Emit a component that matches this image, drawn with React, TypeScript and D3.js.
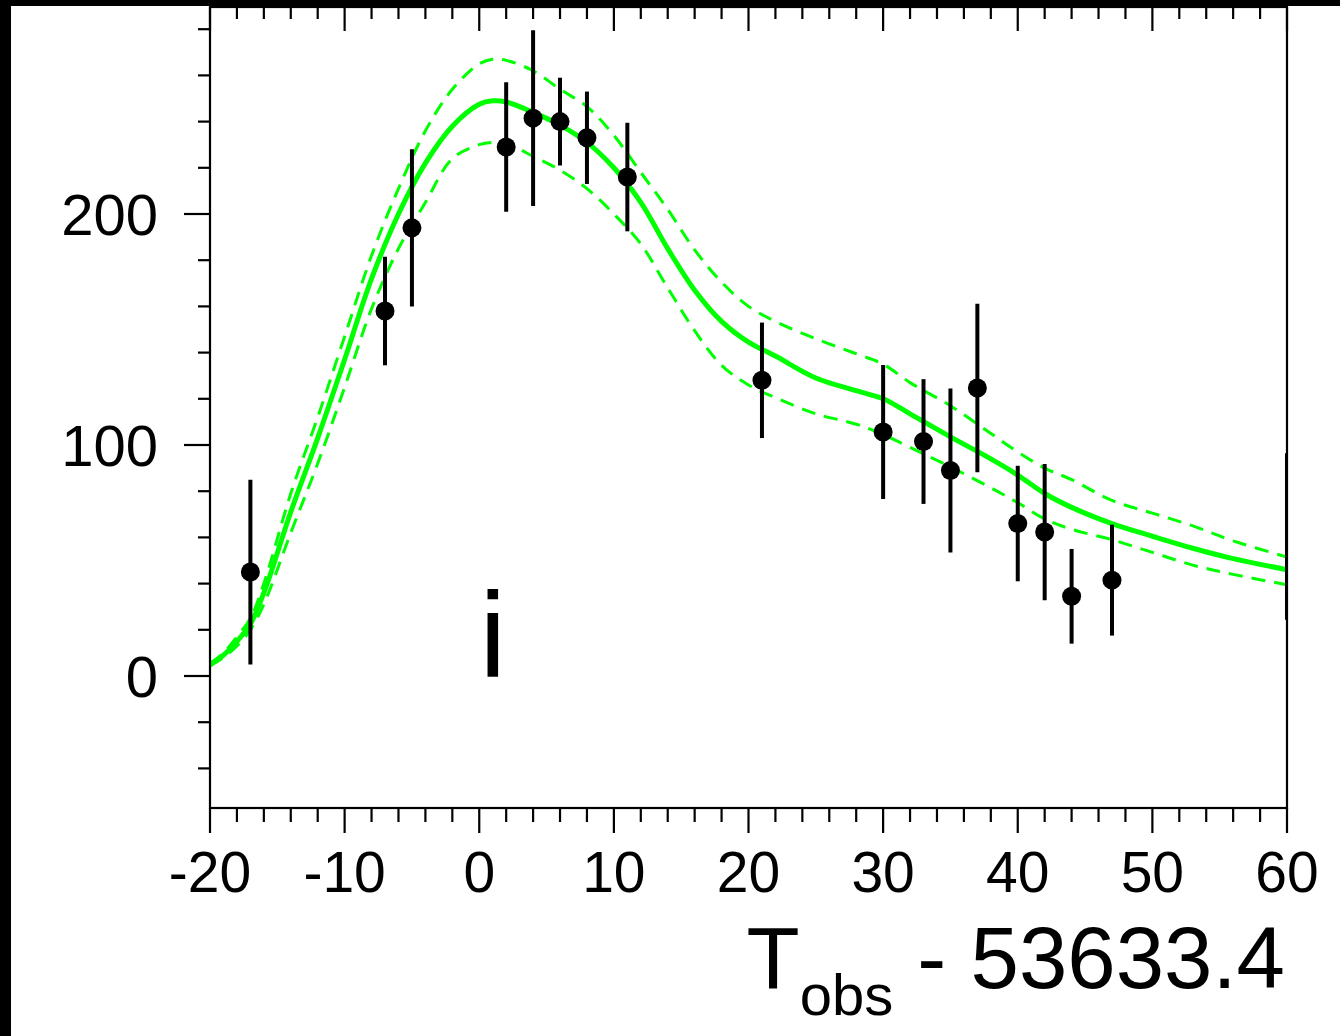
import React from "react";
import * as d3 from "d3";

// Observations
const obsT = [-17, -7, -5, 2, 4, 6, 8, 11, 21, 30, 33, 35, 37, 40, 42, 44, 47, 60];
const obsFlux = [45, 158, 194, 229, 241.5, 240, 233, 216, 128, 105.6, 101.5, 89, 124.7, 66, 62.3, 34.5, 41.5, 60.4];
const obsErr = [40, 23.5, 34, 28, 38, 19, 20, 23.5, 25, 29, 27, 35.5, 36.5, 25, 29.5, 20.5, 24, 36];

// Model curves
const modelT = [-20, -19, -18, -17, -16, -14, -12, -10, -8, -6, -4, -2, 0, 1, 2, 4, 6, 8, 10, 12, 14, 16, 18, 20, 22, 25, 28, 30, 32, 35, 38, 40, 42, 44, 47, 50, 53, 56, 60];
const modelMid = [4.8, 9, 15, 22.5, 36, 71, 103, 137, 172, 200, 222, 238, 247.5, 249, 248.5, 244, 238.5, 231, 220, 205, 185, 167, 153.5, 144.5, 138.5, 129, 123.5, 120, 113.5, 103.5, 94, 87, 79, 73, 66, 60.5, 55.3, 50.8, 46];
const modelUp = [5.5, 10, 17, 25, 40, 79, 112, 147, 182, 211, 236, 254, 265, 267, 266.5, 262, 254, 246.5, 234, 218, 202, 184.5, 170.5, 160, 153.5, 146, 139.5, 135, 127, 117, 105, 97, 90, 85, 76, 70.5, 65, 58.5, 51.5];
const modelLo = [4.5, 8, 13, 20, 31, 62, 92, 125, 159, 185, 205, 224, 230, 231, 230.5, 225, 219, 211, 200, 187, 168, 149.5, 134.5, 126, 120.5, 113.5, 109, 104.5, 99, 90.5, 81.5, 75, 68, 63.5, 59, 53.5, 48, 44, 39.5];

const xMajor = [-20, -10, 0, 10, 20, 30, 40, 50, 60];
const yMajor = [0, 100, 200];

export default function App() {
  const W = 1340, H = 1036;
  const L = 210, R = 1287, T = 8, B = 808;
  const x = d3.scaleLinear().domain([-20, 60]).range([L, R]);
  const y = d3.scaleLinear().domain([0, 100]).range([676, 445]);
  const yTop = y.invert(T), yBot = y.invert(B);

  const xMinor = d3.range(-20, 60.001, 2).filter((v) => Math.abs(v % 10) > 1e-6);
  const yMinor = d3.range(-40, 281, 20).filter((v) => Math.abs(v % 100) > 1e-6 && v > yBot && v < yTop);

  const mk = (vals: number[]) =>
    d3.line<number>()
      .x((_, i) => x(modelT[i]))
      .y((v) => y(v))
      .curve(d3.curveCatmullRom.alpha(0.5))(vals) as string;

  const green = "#00ff00";
  const font = "'Liberation Sans', Arial, Helvetica, sans-serif";

  return (
    <svg width={W} height={H} style={{ position: "absolute", left: 0, top: 0 }} fontFamily={font}>
      <defs>
        <clipPath id="plotclip">
          <rect x={L} y={T} width={R - L} height={B - T} />
        </clipPath>
      </defs>
      <rect x={0} y={0} width={W} height={H} fill="#000" />
      <rect x={11} y={6} width={W - 11} height={H - 6} fill="#fff" />

      <g clipPath="url(#plotclip)">
        <path d={mk(modelUp)} fill="none" stroke={green} strokeWidth={3} strokeDasharray="14 9" />
        <path d={mk(modelLo)} fill="none" stroke={green} strokeWidth={3} strokeDasharray="14 9" />
        <path d={mk(modelMid)} fill="none" stroke={green} strokeWidth={5} />
        {obsT.map((t, i) => (
          <line key={"e" + i} x1={x(t)} x2={x(t)} y1={y(obsFlux[i] - obsErr[i])} y2={y(obsFlux[i] + obsErr[i])} stroke="#000" strokeWidth={4} />
        ))}
        {obsT.map((t, i) =>
          t < 60 ? <circle key={"c" + i} cx={x(t)} cy={y(obsFlux[i])} r={9.5} fill="#000" /> : null
        )}
      </g>

      {/* frame */}
      <rect x={L} y={7} width={R - L} height={B - 7} fill="none" stroke="#000" strokeWidth={2.2} />

      {/* bottom ticks */}
      {xMajor.map((v) => (
        <line key={"bM" + v} x1={x(v)} x2={x(v)} y1={B} y2={B + 25} stroke="#000" strokeWidth={2.2} />
      ))}
      {xMinor.map((v) => (
        <line key={"bm" + v} x1={x(v)} x2={x(v)} y1={B} y2={B + 14} stroke="#000" strokeWidth={2.2} />
      ))}
      {/* top ticks */}
      {xMajor.map((v) => (
        <line key={"tM" + v} x1={x(v)} x2={x(v)} y1={7} y2={31} stroke="#000" strokeWidth={2.2} />
      ))}
      {xMinor.map((v) => (
        <line key={"tm" + v} x1={x(v)} x2={x(v)} y1={7} y2={19} stroke="#000" strokeWidth={2.2} />
      ))}
      {/* left ticks */}
      {yMajor.map((v) => (
        <line key={"lM" + v} x1={L - 26} x2={L} y1={y(v)} y2={y(v)} stroke="#000" strokeWidth={2.2} />
      ))}
      {yMinor.map((v) => (
        <line key={"lm" + v} x1={L - 12} x2={L} y1={y(v)} y2={y(v)} stroke="#000" strokeWidth={2.2} />
      ))}

      {/* tick labels */}
      {xMajor.map((v) => (
        <text key={"xl" + v} x={x(v)} y={892} fontSize={57} textAnchor="middle" fill="#000">
          {String(v)}
        </text>
      ))}
      {yMajor.map((v) => (
        <text key={"yl" + v} x={158} y={y(v) + 21} fontSize={58} textAnchor="end" fill="#000">
          {String(v)}
        </text>
      ))}

      {/* axis title */}
      <text x={1285} y={988} fontSize={87} textAnchor="end" fill="#000">
        T<tspan fontSize={58} dy={27}>obs</tspan>
        <tspan dy={-27}> - 53633.4</tspan>
      </text>

      {/* band label */}
      <text x={x(1)} y={y(0)} fontSize={120} textAnchor="middle" fill="#000">
        i
      </text>
    </svg>
  );
}
